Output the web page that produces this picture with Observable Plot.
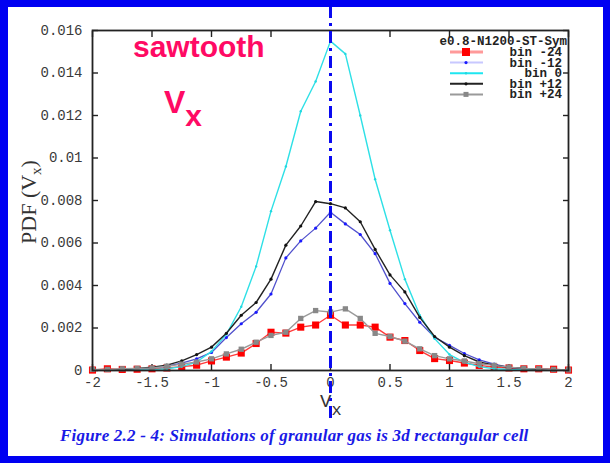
<!DOCTYPE html>
<html>
<head>
<meta charset="utf-8">
<script src="https://cdn.jsdelivr.net/npm/d3@7"></script>
<script src="https://cdn.jsdelivr.net/npm/@observablehq/plot@0.6"></script>
<style>
  html, body { margin: 0; padding: 0; background: #fff; }
  #page { position: relative; width: 610px; height: 463px; overflow: hidden; background: #fff; }
  #page svg.plot { position: absolute; left: 0; top: 0; }
  #edge { position: absolute; inset: 0; box-sizing: border-box; border: 7px solid #0000f2; border-left-width: 8px; pointer-events: none; z-index: 5; }
  #caption { position: absolute; left: 60px; top: 426px; font: italic bold 17px "Liberation Serif", "DejaVu Serif", serif; color: #1a1ae6; white-space: nowrap; letter-spacing: 0.2px; }
</style>
</head>
<body>
<div id="page">
  <div id="edge"></div>
  <div id="caption">Figure 2.2 - 4: Simulations of granular gas is 3d rectangular cell</div>
</div>
<script>
// velocity bins (Vx) shared by every series
const vx = [-2, -1.875, -1.75, -1.625, -1.5, -1.375, -1.25, -1.125, -1, -0.875, -0.75, -0.625, -0.5,
  -0.375, -0.25, -0.125, 0, 0.125, 0.25, 0.375, 0.5, 0.625, 0.75, 0.875, 1, 1.125, 1.25, 1.375,
  1.5, 1.625, 1.75, 1.875, 2];

// PDF(Vx) for each spatial bin
const binM24 = [0.00002, 0.00008, 0.00005, 0.00006, 0.00008, 0.00012, 0.00018, 0.00025, 0.00045, 0.00063,
  0.00082, 0.00127, 0.0018, 0.00176, 0.00204, 0.00214, 0.0026, 0.00214, 0.00214, 0.00204, 0.00157,
  0.00141, 0.00094, 0.00056, 0.00047, 0.00035, 0.00024, 0.00015, 0.00012, 0.00008, 0.00008, 0.00006, 0.00002];
const binM12 = [0.00002, 0.00003, 0.00005, 0.00007, 0.00012, 0.0002, 0.00035, 0.00055, 0.00085, 0.00155,
  0.0022, 0.00274, 0.0036, 0.0053, 0.0061, 0.0067, 0.00745, 0.0069, 0.0064, 0.0055, 0.0041,
  0.00315, 0.00227, 0.00156, 0.00118, 0.0008, 0.0005, 0.0003, 0.00015, 0.0001, 0.00006, 0.00003, 0.00002];
const bin0 = [0.00003, 0.00003, 0.00003, 0.00003, 0.00004, 0.00008, 0.00018, 0.0004, 0.0009, 0.0017,
  0.003, 0.0049, 0.0075, 0.0096, 0.0122, 0.0136, 0.0155, 0.0149, 0.012, 0.009, 0.0066,
  0.0043, 0.0026, 0.0015, 0.00075, 0.00038, 0.00018, 0.00008, 0.00005, 0.00004, 0.00003, 0.00003, 0.00003];
const binP12 = [0.00002, 0.00003, 0.00005, 0.0001, 0.00015, 0.00025, 0.00045, 0.00075, 0.0011, 0.00175,
  0.0026, 0.0032, 0.0043, 0.0059, 0.0068, 0.00795, 0.00785, 0.00765, 0.007, 0.0057, 0.0045,
  0.0037, 0.0025, 0.0016, 0.0011, 0.0007, 0.0004, 0.00025, 0.00015, 0.0001, 0.00006, 0.00004, 0.00002];
const binP24 = [0.00005, 0.00005, 0.00008, 0.0001, 0.00012, 0.0002, 0.0003, 0.0004, 0.00055, 0.00078,
  0.001, 0.00133, 0.00165, 0.0018, 0.00245, 0.00282, 0.00275, 0.0029, 0.00245, 0.00175, 0.0016,
  0.00138, 0.00102, 0.0007, 0.00055, 0.00045, 0.00032, 0.00024, 0.00016, 0.0001, 0.00008, 0.00005, 0.00003];

const seriesNames = ["bin -24", "bin -12", "bin 0", "bin +12", "bin +24"];
const legendTitle = "e0.8-N1200-ST-Sym";
const xTicks = [-2, -1.5, -1, -0.5, 0, 0.5, 1, 1.5, 2];
const yTicks = [0, 0.002, 0.004, 0.006, 0.008, 0.01, 0.012, 0.014, 0.016];

const styles = [
  {line: "#ff3b3b", dot: "#ff0000", symbol: "square", r: 4, width: 1.4, legendLine: "#ff9a9a"},
  {line: "#5050cc", dot: "#1a1aff", symbol: "circle", r: 1.6, width: 1.3, legendLine: "#c8c8ff"},
  {line: "#2ee0e6", dot: "#22d8e0", symbol: "circle", r: 1.2, width: 1.4, legendLine: "#1ee6f0"},
  {line: "#222222", dot: "#111111", symbol: "circle", r: 1.6, width: 1.4, legendLine: "#222222"},
  {line: "#9a9a9a", dot: "#888888", symbol: "square", r: 3, width: 1.4, legendLine: "#9a9a9a"}
];

const columns = [binM24, binM12, bin0, binP12, binP24];
const rows = columns.map((col, i) => vx.map((x, j) => ({x, y: col[j], s: seriesNames[i]})));

const tickFont = {fontFamily: "'Liberation Mono', 'DejaVu Sans Mono', monospace", fontSize: 14, fill: "#3a3a3a"};
const noText = () => "";

const chart = Plot.plot({
  width: 610,
  height: 463,
  marginLeft: 92,
  marginRight: 42,
  marginTop: 30,
  marginBottom: 93,
  style: {background: "transparent", overflow: "visible"},
  x: {domain: [-2, 2]},
  y: {domain: [0, 0.016]},
  marks: [
    // inward ticks on all four sides
    Plot.axisX({anchor: "bottom", ticks: xTicks, tickSize: 6, dy: -6, tickFormat: noText, label: null, stroke: "#222", strokeWidth: 1.4}),
    Plot.axisX({anchor: "top", ticks: xTicks, tickSize: 6, dy: 6, tickFormat: noText, label: null, stroke: "#222", strokeWidth: 1.4}),
    Plot.axisY({anchor: "left", ticks: yTicks, tickSize: 6, dx: 6, tickFormat: noText, label: null, stroke: "#222", strokeWidth: 1.4}),
    Plot.axisY({anchor: "right", ticks: yTicks, tickSize: 6, dx: -6, tickFormat: noText, label: null, stroke: "#222", strokeWidth: 1.4}),
    // tick labels
    Plot.axisX({anchor: "bottom", ticks: xTicks, tickSize: 0, tickPadding: 7, label: null,
      tickFormat: d => String(d), ...tickFont}),
    Plot.axisY({anchor: "left", ticks: yTicks, tickSize: 0, tickPadding: 10, label: null,
      tickFormat: d => d === 0 ? "0" : String(+d.toFixed(3)), ...tickFont}),
    ...rows.flatMap((data, i) => [
      Plot.line(data, {x: "x", y: "y", stroke: styles[i].line, strokeWidth: styles[i].width}),
      Plot.dot(data, {x: "x", y: "y", symbol: styles[i].symbol, r: styles[i].r, fill: styles[i].dot, stroke: "none"})
    ]),
    Plot.frame({stroke: "#222", strokeWidth: 1.8}),
    // dash-dot marker of Vx = 0
    Plot.ruleX([0], {stroke: "#0a0af0", strokeWidth: 3, strokeDasharray: "12,5,3,5", insetTop: -24, insetBottom: -48})
  ]
});

document.getElementById("page").appendChild(chart);

const svg = d3.select(chart);
const sx = chart.scale("x");
const x0 = sx.apply(0);

// axis titles
const xt = svg.append("text")
  .attr("x", x0 - 10).attr("y", 407).attr("text-anchor", "start")
  .attr("font-family", "'Liberation Mono', 'DejaVu Sans Mono', monospace")
  .attr("font-size", 19).attr("fill", "#333");
xt.append("tspan").text("V");
xt.append("tspan").attr("dy", 8).attr("font-size", 17).text("x");

const yt = svg.append("text")
  .attr("transform", "translate(36,202) rotate(-90)").attr("text-anchor", "middle")
  .attr("font-family", "'Liberation Serif', 'DejaVu Serif', serif")
  .attr("font-size", 22).attr("fill", "#333");
yt.append("tspan").text("PDF (V");
yt.append("tspan").attr("dy", 5).attr("font-size", 15).text("x");
yt.append("tspan").attr("dy", -5).text(")");

// annotations
svg.append("text")
  .attr("x", 133).attr("y", 57).attr("text-anchor", "start")
  .attr("font-family", "'Liberation Sans', Arial, sans-serif")
  .attr("font-weight", "bold").attr("font-size", 30).attr("fill", "#ff0a64")
  .text("sawtooth");
const vt = svg.append("text")
  .attr("x", 164).attr("y", 113).attr("text-anchor", "start")
  .attr("font-family", "'Liberation Sans', Arial, sans-serif")
  .attr("font-weight", "bold").attr("font-size", 32).attr("fill", "#ff0a64");
vt.append("tspan").text("V");
vt.append("tspan").attr("dy", 13).attr("font-size", 30).text("x");

// legend
const legendFont = "'Liberation Mono', 'DejaVu Sans Mono', monospace";
const lg = svg.append("g");
lg.append("text")
  .attr("x", 567).attr("y", 45).attr("text-anchor", "end")
  .attr("font-family", legendFont).attr("font-size", 12.5).attr("font-weight", "bold").attr("fill", "#222")
  .text(legendTitle);
seriesNames.forEach((name, i) => {
  const cy = 52 + i * 10.6;
  const st = styles[i];
  lg.append("line").attr("x1", 450).attr("x2", 483).attr("y1", cy).attr("y2", cy)
    .attr("stroke", st.legendLine).attr("stroke-width", i === 0 ? 3 : 2);
  if (st.symbol === "square") {
    const s = i === 0 ? 8 : 5;
    lg.append("rect").attr("x", 466 - s / 2).attr("y", cy - s / 2).attr("width", s).attr("height", s).attr("fill", st.dot);
  } else {
    lg.append("circle").attr("cx", 466).attr("cy", cy).attr("r", st.r).attr("fill", st.dot);
  }
  lg.append("text")
    .attr("x", 562).attr("y", cy + 4).attr("text-anchor", "end")
    .attr("font-family", legendFont).attr("font-size", 12.5).attr("font-weight", "bold").attr("fill", "#222")
    .attr("xml:space", "preserve")
    .text(name);
});
</script>
</body>
</html>
